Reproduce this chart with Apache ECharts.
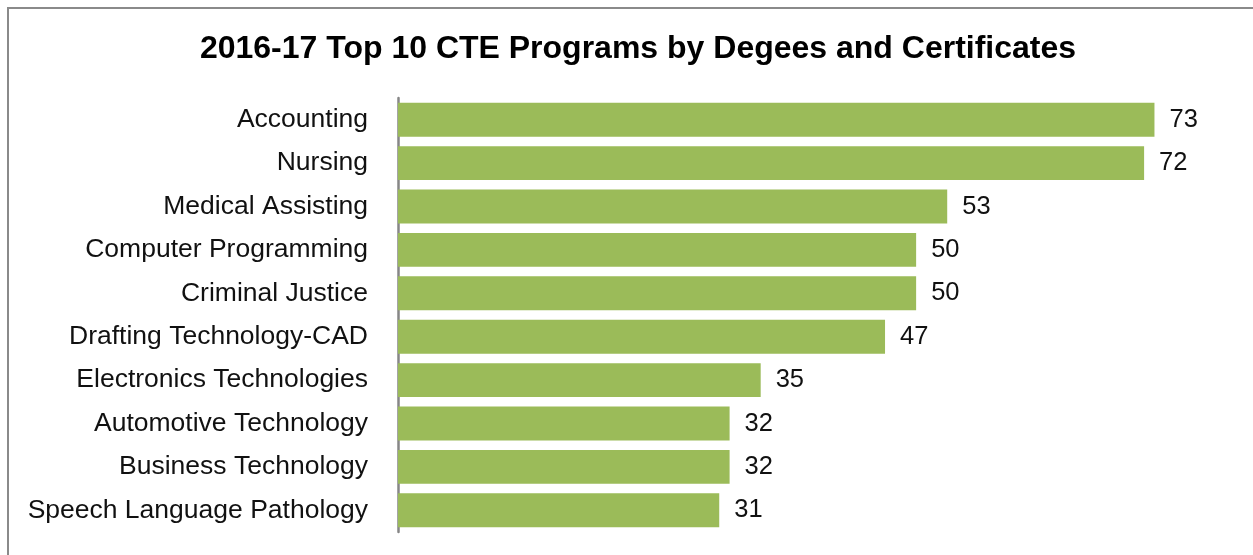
<!DOCTYPE html>
<html>
<head>
<meta charset="utf-8">
<title>2016-17 Top 10 CTE Programs by Degees and Certificates</title>
<script src="https://cdn.jsdelivr.net/npm/echarts@6/dist/echarts.min.js"></script>
<style>
  html, body { margin: 0; padding: 0; background: #ffffff; }
  #chart { width: 1253px; height: 555px; }
</style>
</head>
<body>
<div id="chart"></div>
<script>
// Programs, top to bottom
const programs = [
  'Accounting',
  'Nursing',
  'Medical Assisting',
  'Computer Programming',
  'Criminal Justice',
  'Drafting Technology-CAD',
  'Electronics Technologies',
  'Automotive Technology',
  'Business Technology',
  'Speech Language Pathology'
];

// Degrees and certificates awarded per program
const awards = [73, 72, 53, 50, 50, 47, 35, 32, 32, 31];

const chartTitle = '2016-17 Top 10 CTE Programs by Degees and Certificates';

const chart = echarts.init(document.getElementById('chart'));

chart.setOption({
  backgroundColor: '#ffffff',
  animation: false,
  title: {
    text: chartTitle,
    left: 633,
    textAlign: 'center',
    top: 28,
    textStyle: {
      fontFamily: 'Liberation Sans, Arial, sans-serif',
      fontWeight: 'bold',
      fontSize: 32,
      color: '#000000'
    }
  },
  graphic: [{
    type: 'rect',
    shape: { x: 8, y: 8, width: 1300, height: 600 },
    style: { fill: 'none', stroke: '#8a8a8a', lineWidth: 2 },
    silent: true,
    z: -1
  }],
  grid: {
    left: 398,
    right: 26,
    top: 98,
    bottom: 23,
    containLabel: false
  },
  xAxis: {
    type: 'value',
    min: 0,
    max: 80,
    show: false,
    splitLine: { show: false }
  },
  yAxis: {
    type: 'category',
    data: programs,
    inverse: true,
    axisLine: { show: true, lineStyle: { color: '#868686', width: 2.5 } },
    axisTick: { show: false },
    axisLabel: {
      margin: 30,
      fontFamily: 'Liberation Sans, Arial, sans-serif',
      fontSize: 26.5,
      color: '#111111',
      padding: [4, 0, 0, 0]
    }
  },
  series: [{
    type: 'bar',
    data: awards,
    barCategoryGap: '22%',
    itemStyle: { color: '#9bbb59' },
    label: {
      show: true,
      position: 'right',
      distance: 15,
      fontFamily: 'Liberation Sans, Arial, sans-serif',
      fontSize: 25.5,
      color: '#111111',
      padding: [4, 0, 0, 0]
    }
  }]
});
</script>
</body>
</html>
